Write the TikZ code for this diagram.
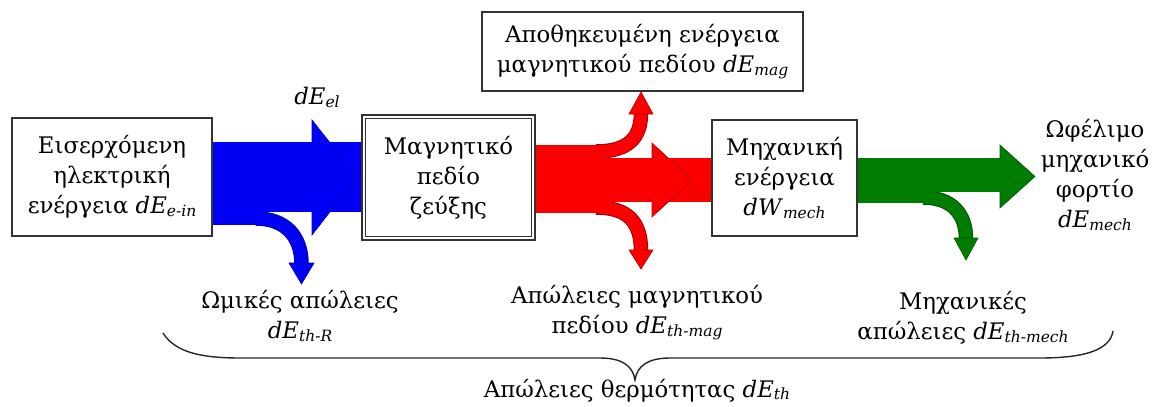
\documentclass[tikz,border=0pt]{standalone}
\usepackage{fontspec}
\setmainfont{DejaVu Serif}
\definecolor{fblue}{RGB}{0,0,245}
\definecolor{fred}{RGB}{250,0,0}
\definecolor{fgreen}{RGB}{0,125,0}
\newcommand\dq[2]{\textit{d#1}\raisebox{-0.25ex}{\fontsize{15.5}{15.5}\selectfont\itshape #2}}
\begin{document}
\begin{tikzpicture}[x=1pt,y=-1pt,
  txt/.style={font=\fontsize{22.8}{30}\selectfont, align=center, inner sep=0pt},
  boxnode/.style={txt, draw=black!80, line width=1.1pt},
  fl/.style={fill=#1, draw=none},
  head/.style={fill=#1, draw=#1!70!black, line width=0.6pt, line join=miter},
  brout/.style={draw=#1!65!black, line width=14.5pt},
  brin/.style={draw=#1, line width=12.5pt},
  brace/.style={draw=black!85, line width=1.4pt}]
\useasboundingbox (0,0) rectangle (1157,407);

% ---------------- blue flow ----------------
\coordinate (bs) at (256,218.5);
\coordinate (be) at (301.5,264);
\draw[brout=fblue] (bs) .. controls (285,218.5) and (301.5,236) .. (be);
\draw[brin=fblue] (bs) .. controls (285,218.5) and (301.5,236) .. (be);
\fill[fl=fblue] (212,142) rectangle (262,225);
\fill[fl=fblue] (262,142) rectangle (362,212);
\fill[head=fblue] (289,263) -- (314,263) -- (301.5,284) -- cycle;
\fill[fl=fblue] (312,120) -- (357,177) -- (312,235) -- cycle;
\draw[draw=fblue!70!black, line width=0.6pt] (312,142) -- (312,120) -- (357,177) -- (312,235) -- (312,212);

% ---------------- red flow ----------------
\coordinate (rts) at (596,151.5);
\coordinate (rte) at (641,113);
\coordinate (rbs) at (596,207.5);
\coordinate (rbe) at (641,251);
\draw[brout=fred] (rts) .. controls (628,151.5) and (641,138) .. (rte);
\draw[brin=fred] (rts) .. controls (628,151.5) and (641,138) .. (rte);
\draw[brout=fred] (rbs) .. controls (628,207.5) and (641,222) .. (rbe);
\draw[brin=fred] (rbs) .. controls (628,207.5) and (641,222) .. (rbe);
\fill[fl=fred] (535,145) rectangle (600,213);
\fill[fl=fred] (600,158) rectangle (712,202);
\fill[head=fred] (629,114) -- (653,114) -- (641,92) -- cycle;
\fill[head=fred] (629,250) -- (653,250) -- (641,269) -- cycle;
\fill[fl=fred] (652,143) -- (692,180) -- (652,217) -- cycle;
\draw[draw=fred!70!black, line width=0.6pt] (652,158) -- (652,143) -- (692,180) -- (652,217) -- (652,202);

% ---------------- green flow ----------------
\coordinate (gs) at (923,197.5);
\coordinate (ge) at (966,239);
\draw[brout=fgreen] (gs) .. controls (952,197.5) and (966,214) .. (ge);
\draw[brin=fgreen] (gs) .. controls (952,197.5) and (966,214) .. (ge);
\fill[fl=fgreen] (857,158) rectangle (927,203);
\fill[fl=fgreen] (927,158) rectangle (1000,192);
\fill[head=fgreen] (954,238) -- (978,238) -- (966,260) -- cycle;
\fill[fl=fgreen] (1000,145) -- (1035,176.5) -- (1000,208) -- cycle;
\draw[draw=fgreen!70!black, line width=0.6pt] (1000,158) -- (1000,145) -- (1035,176.5) -- (1000,208) -- (1000,192);

% ---------------- boxes ----------------
\node[boxnode, minimum width=200pt, minimum height=118pt, fill=white] (inbox) at (112,177)
  {Εισερχόμενη\\ηλεκτρική\\ενέργεια \dq{E}{e-in}};
\node[boxnode, minimum width=173pt, minimum height=125pt, fill=white, line width=2pt] (mid) at (448.5,177.5)
  {Μαγνητικό\\πεδίο\\ζεύξης};
\draw[draw=black!80, line width=1.3pt] ([shift={(4.5,4.5)}]mid.north west) rectangle ([shift={(-4.5,-4.5)}]mid.south east);
\node[boxnode, minimum width=321pt, minimum height=79pt, fill=white] (store) at (642.5,51.5)
  {Αποθηκευμένη ενέργεια\\μαγνητικού πεδίου \dq{E}{mag}};
\node[boxnode, minimum width=145pt, minimum height=116pt, fill=white] (mech) at (784.5,178)
  {Μηχανική\\ενέργεια\\\dq{W}{mech}};

% ---------------- labels ----------------
\node[txt] (el) at (317,97) {\dq{E}{el}};
\node[txt] (load) at (1095,175) {Ωφέλιμο\\μηχανικό\\φορτίο\\\dq{E}{mech}};
\node[txt] (ohm) at (300,316) {Ωμικές απώλειες\\\dq{E}{th-R}};
\node[txt] (mag) at (637,313) {Απώλειες μαγνητικού\\πεδίου \dq{E}{th-mag}};
\node[txt] (mloss) at (963,318) {Μηχανικές\\απώλειες \dq{E}{th-mech}};
\node[txt, anchor=base] (heat) at (637,397) {Απώλειες θερμότητας \dq{E}{th}};

% ---------------- brace ----------------
\coordinate (brL) at (163,333);
\coordinate (brM) at (635,380);
\coordinate (brR) at (1113,331);
\draw[brace] (brL) .. controls (175,352) and (200,358) .. (240,358) -- (600,358)
  .. controls (622,358) and (633,366) .. (brM)
  .. controls (637,366) and (648,358) .. (670,358) -- (1040,358)
  .. controls (1085,358) and (1110,350) .. (brR);
\end{tikzpicture}
\end{document}
